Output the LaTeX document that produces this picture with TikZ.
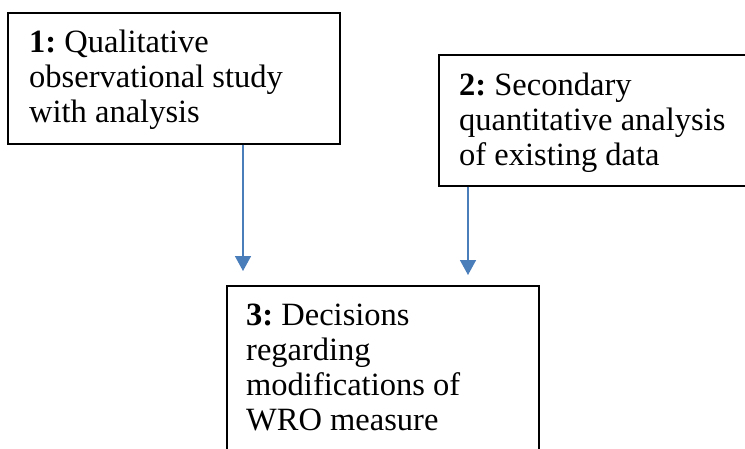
\documentclass[tikz,border=0pt]{standalone}
\usepackage{fontspec}
\setmainfont{Liberation Serif}
\usetikzlibrary{arrows.meta}
\definecolor{arrblue}{HTML}{4A7EBB}
\tikzset{
  box/.style={draw=black, line width=1.6pt, fill=none, inner sep=0pt, anchor=north west},
  txt/.style={inner sep=0pt, anchor=base west, font=\fontsize{32.5}{35}\selectfont\frenchspacing},
  arr/.style={draw=arrblue, line width=1.6pt, -{Triangle[width=16pt,length=15pt]}}
}
\begin{document}
\begin{tikzpicture}[x=1pt,y=-1pt]
\useasboundingbox (0,0) rectangle (745,448);
\begin{scope}
\clip (0,0) rectangle (745,448);
\node[box, minimum width=332pt, minimum height=131pt] (b1) at (7,12) {};
\node[box, minimum width=330pt, minimum height=131pt] (b2) at (438,54) {};
\node[box, minimum width=312pt, minimum height=190pt] (b3) at (226,285) {};
\end{scope}
\node[txt] (t1) at (29,52) {\vtop{\hbox{\textbf{1:} Qualitative}\hbox{observational study}\hbox{with analysis}}};
\node[txt] (t2) at (459,95) {\vtop{\hbox{\textbf{2:} Secondary}\hbox{quantitative analysis}\hbox{of existing data}}};
\node[txt] (t3) at (246,325) {\vtop{\hbox{\textbf{3:} Decisions}\hbox{regarding}\hbox{modifications of}\hbox{WRO measure}}};
\coordinate (e1) at (243,271);
\coordinate (e2) at (468,275);
\draw[arr] (b1.south -| e1) -- (e1);
\draw[arr] (b2.south -| e2) -- (e2);
\end{tikzpicture}
\end{document}
